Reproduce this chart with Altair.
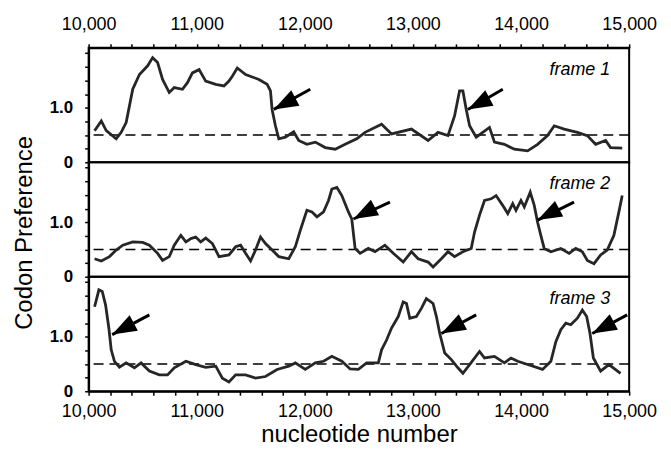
import altair as alt
import pandas as pd

# ---- frame 1 ----
f1_pos = [10055, 10117, 10163, 10255, 10301, 10347, 10378, 10408, 10470, 10546,
          10592, 10638, 10684, 10746, 10792, 10868, 10914, 10960, 11022, 11083,
          11176, 11252, 11298, 11329, 11375, 11452, 11575, 11651, 11682, 11697,
          11728, 11759, 11820, 11897, 11943, 12019, 12097, 12189, 12281, 12373,
          12480, 12557, 12710, 12802, 12986, 13140, 13232, 13324, 13385, 13431,
          13462, 13493, 13524, 13585, 13646, 13708, 13754, 13846, 13938, 14061,
          14153, 14245, 14307, 14399, 14521, 14613, 14690, 14782, 14828, 14936]
f1_val = [0.58, 0.76, 0.58, 0.43, 0.55, 0.73, 1.04, 1.34, 1.61, 1.77,
          1.92, 1.83, 1.52, 1.28, 1.37, 1.34, 1.46, 1.64, 1.70, 1.49,
          1.43, 1.40, 1.49, 1.58, 1.73, 1.61, 1.52, 1.43, 1.31, 0.97,
          0.67, 0.43, 0.46, 0.56, 0.40, 0.33, 0.37, 0.27, 0.24, 0.33,
          0.43, 0.55, 0.70, 0.52, 0.61, 0.40, 0.55, 0.49, 0.85, 1.31,
          1.31, 0.97, 0.67, 0.46, 0.55, 0.64, 0.37, 0.33, 0.24, 0.21,
          0.33, 0.49, 0.67, 0.61, 0.55, 0.49, 0.33, 0.40, 0.27, 0.26]

# ---- frame 2 ----
f2_pos = [10055, 10117, 10193, 10255, 10316, 10408, 10500, 10562, 10638, 10684,
          10746, 10792, 10853, 10900, 10946, 10991, 11037, 11083, 11145, 11206,
          11298, 11360, 11406, 11452, 11498, 11544, 11590, 11636, 11697, 11759,
          11851, 11912, 11958, 12019, 12066, 12112, 12173, 12219, 12250, 12296,
          12342, 12403, 12434, 12465, 12511, 12587, 12649, 12741, 12818, 12910,
          12986, 13048, 13140, 13186, 13263, 13324, 13385, 13462, 13539, 13570,
          13616, 13662, 13723, 13769, 13830, 13877, 13923, 13953, 13999, 14030,
          14085, 14122, 14153, 14183, 14214, 14276, 14368, 14445, 14506, 14567,
          14613, 14675, 14736, 14797, 14859, 14905, 14936]
f2_val = [0.33, 0.29, 0.37, 0.49, 0.58, 0.64, 0.63, 0.58, 0.43, 0.30,
          0.37, 0.58, 0.76, 0.64, 0.70, 0.73, 0.64, 0.71, 0.61, 0.37,
          0.40, 0.55, 0.58, 0.43, 0.29, 0.49, 0.73, 0.61, 0.49, 0.37,
          0.33, 0.55, 0.85, 1.22, 1.19, 1.10, 1.19, 1.40, 1.61, 1.64,
          1.49, 1.19, 1.06, 0.52, 0.43, 0.52, 0.46, 0.58, 0.43, 0.27,
          0.46, 0.33, 0.27, 0.18, 0.33, 0.46, 0.37, 0.46, 0.52, 0.82,
          1.13, 1.40, 1.43, 1.49, 1.31, 1.16, 1.34, 1.22, 1.40, 1.28,
          1.55, 1.31, 1.00, 0.76, 0.52, 0.46, 0.52, 0.43, 0.52, 0.46,
          0.30, 0.24, 0.40, 0.49, 0.76, 1.19, 1.49]

# ---- frame 3 ----
f3_pos = [10055, 10071, 10095, 10126, 10157, 10187, 10209, 10239, 10285, 10347,
          10424, 10485, 10562, 10654, 10730, 10792, 10900, 10991, 11083, 11176,
          11237, 11298, 11360, 11452, 11544, 11636, 11743, 11851, 11912, 12004,
          12097, 12173, 12250, 12342, 12419, 12495, 12572, 12680, 12710, 12756,
          12802, 12864, 12910, 12940, 12971, 13032, 13078, 13124, 13186, 13217,
          13248, 13294, 13355, 13416, 13462, 13524, 13616, 13662, 13754, 13846,
          13907, 13969, 14061, 14199, 14276, 14322, 14368, 14414, 14460, 14521,
          14567, 14607, 14638, 14669, 14736, 14813, 14920]
f3_val = [1.55, 1.67, 1.86, 1.83, 1.58, 1.16, 0.76, 0.55, 0.44, 0.52,
          0.43, 0.52, 0.37, 0.30, 0.30, 0.43, 0.55, 0.49, 0.44, 0.46,
          0.24, 0.17, 0.30, 0.30, 0.24, 0.27, 0.40, 0.46, 0.52, 0.40,
          0.52, 0.55, 0.64, 0.55, 0.41, 0.40, 0.52, 0.52, 0.76, 0.94,
          1.16, 1.37, 1.64, 1.61, 1.34, 1.37, 1.52, 1.70, 1.61, 1.37,
          1.06, 0.70, 0.58, 0.43, 0.33, 0.49, 0.73, 0.61, 0.64, 0.52,
          0.61, 0.55, 0.49, 0.40, 0.55, 0.91, 1.13, 1.25, 1.22, 1.34,
          1.49, 1.37, 1.06, 0.61, 0.37, 0.49, 0.33]

# ---- arrows (tip and tail, data coordinates) ----
a1_tip_n = [11713, 13508]
a1_tip_v = [0.97, 0.97]
a1_tail_n = [12050, 13831]
a1_tail_v = [1.34, 1.34]

a2_tip_n = [12450, 14153]
a2_tip_v = [1.06, 1.04]
a2_tail_n = [12787, 14490]
a2_tail_v = [1.37, 1.37]

a3_tip_n = [10218, 13263, 14659]
a3_tip_v = [1.04, 1.06, 1.06]
a3_tail_n = [10562, 13585, 14982]
a3_tail_v = [1.40, 1.40, 1.40]

frame_labels = ["frame 1", "frame 2", "frame 3"]
THRESHOLD = 0.5
X_DOMAIN = [10000, 15000]
Y_DOMAIN = [0, 2.1]
X_TICKS = list(range(10000, 15001, 200))
Y_TICKS = [0, 0.25, 0.5, 0.75, 1.0, 1.25, 1.5, 1.75, 2.0]

W, H = 543, 115
FONT = "Liberation Sans"
LINE_COLOR = "#262626"

x_label_expr = "datum.value % 1000 == 0 ? format(datum.value, ',') : ''"
y_label_expr = "datum.value == 0 ? '0' : (datum.value == 1 ? '1.0' : '')"


def y_axis(title=None):
    kw = dict(values=Y_TICKS, labelExpr=y_label_expr, labelFont=FONT,
              labelFontSize=17, labelFontWeight="bold", labelColor="black",
              labelOverlap=False, tickColor="black", tickSize=4, tickWidth=1.5,
              domainColor="black", domainWidth=2, labelPadding=12, grid=False)
    if title:
        kw.update(title=title, titleFont=FONT, titleFontSize=24,
                  titleFontWeight="normal", titlePadding=13, titleColor="black",
                  titleY=H / 2 + 13)
    else:
        kw.update(title=None)
    return alt.Axis(**kw)


def x_axis(orient, title=None, label_pad=10):
    kw = dict(orient=orient, values=X_TICKS, labelExpr=x_label_expr,
              labelFont=FONT, labelFontSize=18, labelColor="black",
              labelFlush=False, labelOverlap=False, labelPadding=label_pad,
              tickColor="black", tickSize=4, tickWidth=1.5,
              domainColor="black", domainWidth=2, grid=False)
    if title:
        kw.update(title=title, titleFont=FONT, titleFontSize=24,
                  titleFontWeight="normal", titlePadding=2, titleColor="black")
    else:
        kw.update(title=None)
    return alt.Axis(**kw)


def panel(pos, val, tip_n, tip_v, tail_n, tail_v, label, xaxis, ytitle=None):
    xs = alt.Scale(domain=X_DOMAIN, nice=False, zero=False)
    ys = alt.Scale(domain=Y_DOMAIN, nice=False, zero=False)
    ya = y_axis(ytitle)
    df = pd.DataFrame({"n": pos, "v": val})
    arr = pd.DataFrame({"tn": tip_n, "tv": tip_v, "sn": tail_n, "sv": tail_v})
    thr = pd.DataFrame({"t": [THRESHOLD]})

    line = alt.Chart(df).mark_line(color=LINE_COLOR, strokeWidth=2.8,
                                   strokeJoin="miter").encode(
        x=alt.X("n:Q", scale=xs, axis=xaxis),
        y=alt.Y("v:Q", scale=ys, axis=ya),
    )
    dash = alt.Chart(thr).mark_rule(color="black", strokeWidth=1.6,
                                    strokeDash=[10, 6]).encode(
        y=alt.Y("t:Q", scale=ys, axis=ya)
    )
    shaft = alt.Chart(arr).mark_rule(color="black", strokeWidth=3).encode(
        x=alt.X("sn:Q", scale=xs, axis=xaxis),
        y=alt.Y("sv:Q", scale=ys, axis=ya),
        x2="tn:Q", y2="tv:Q",
    )
    head = alt.Chart(arr).mark_point(
        shape="M0,0L0.36,1L-0.36,1Z", filled=True, color="black", opacity=1,
        size=2400, angle=242, strokeWidth=0,
    ).encode(x=alt.X("tn:Q", scale=xs, axis=xaxis),
             y=alt.Y("tv:Q", scale=ys, axis=ya))
    text = alt.Chart(pd.DataFrame({"lab": [label]})).mark_text(
        font=FONT, fontSize=18, fontStyle="italic", align="right",
        baseline="alphabetic", color="black",
    ).encode(text="lab:N", x=alt.value(524), y=alt.value(27))
    return alt.layer(dash, line, shaft, head, text).properties(width=W, height=H)


p1 = panel(f1_pos, f1_val, a1_tip_n, a1_tip_v, a1_tail_n, a1_tail_v,
           frame_labels[0], x_axis("top", label_pad=10))
p2 = panel(f2_pos, f2_val, a2_tip_n, a2_tip_v, a2_tail_n, a2_tail_v,
           frame_labels[1], None, ytitle="Codon Preference")
p3 = panel(f3_pos, f3_val, a3_tip_n, a3_tip_v, a3_tail_n, a3_tail_v,
           frame_labels[2], x_axis("bottom", "nucleotide number", label_pad=7))

chart = alt.vconcat(p1, p2, p3, spacing=0, bounds="flush").properties(
    padding={"left": 3, "top": 6, "right": 5, "bottom": 0},
    background="white",
).configure_view(stroke="black", strokeWidth=2)

chart.save("out.html", embed_options={"renderer": "svg", "actions": False})
